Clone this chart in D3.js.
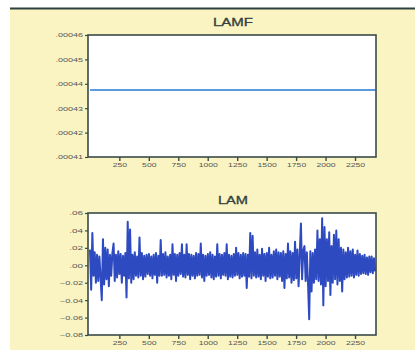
<!DOCTYPE html>
<html>
<head>
<meta charset="utf-8">
<script src="https://cdn.jsdelivr.net/npm/d3@7/dist/d3.min.js"></script>
<style>
  body { margin: 0; background: #fff; }
  text { font-family: "Liberation Sans", Arial, sans-serif; }
</style>
</head>
<body>
<svg id="chart" width="415" height="350"></svg>
<script>
// tick labels
const xTicks = [250, 500, 750, 1000, 1250, 1500, 1750, 2000, 2250];
const lamfTicks = [0.00041, 0.00042, 0.00043, 0.00044, 0.00045, 0.00046];
const lamTicks = [-0.08, -0.06, -0.04, -0.02, 0.00, 0.02, 0.04, 0.06];

// LAMF is flat over the sample
const lamfLevel = 0.0004375;
const obsFirst = 1, obsLast = 2425;

// LAM, read every 10th observation off the picture (obs 1, 11, 21, ...)
const lamStep = 10;
const lam = [
  .018, -.028, .037, -.012, .015, -.020, .012, -.018, .010, -.015,
  -.040, .030, -.022, .020, -.016, .018, -.024, .012, -.012, .014,
  .025, -.018, .012, -.014, .016, -.010, .013, -.020, .011, -.012,
  .014, -.037, .050, -.015, .041, -.020, .012, -.016, .015, -.012,
  .010, -.014, .032, -.012, .014, -.016, .011, -.013, .012, -.010,
  .013, -.012, .010, -.015, .012, -.011, .014, -.020, .011, -.012,
  .029, -.012, .013, -.011, .015, -.014, .010, -.012, .012, -.016,
  .024, -.011, .013, -.018, .012, -.012, .014, -.010, .024, -.013,
  .012, -.014, .024, -.011, .013, -.016, .012, -.012, .011, -.015,
  .014, -.012, .013, -.011, .025, -.014, .012, -.018, .011, -.012,
  .013, -.011, .015, -.014, .012, -.016, .010, -.013, .024, -.012,
  .013, -.015, .012, -.011, .014, -.012, .024, -.016, .012, -.013,
  .011, -.014, .013, -.012, .020, -.011, .014, -.015, .012, -.013,
  .014, -.012, .013, -.026, .012, -.013, .037, -.015, .034, -.012,
  .015, -.014, .018, -.013, .012, -.016, .019, -.012, .013, -.018,
  .014, -.013, .020, -.015, .012, -.014, .016, -.012, .018, -.016,
  .015, -.013, .014, -.018, .016, -.026, .013, -.015, .025, -.014,
  .016, -.020, .014, -.017, .027, -.015, .018, -.024, .013, .048,
  -.016, .017, .022, -.018, .015, -.020, -.062, .016, -.030, .014,
  -.020, .018, -.016, .040, -.018, .030, -.022, .054, -.046, .044,
  -.024, .030, -.018, .038, -.034, .022, -.020, .035, -.016, .040,
  -.022, .030, -.018, .020, -.030, .018, -.016, .015, -.014, .020,
  -.013, .016, -.012, .018, -.014, .012, -.011, .017, -.012, .013,
  -.010, .011, -.009, .012, -.010, .009, -.011, .010, -.008, .010,
  -.009, .008, -.007
];

const svg = d3.select("#chart");

// page background: white strip, rule, yellow card
svg.append("rect").attr("x", 10).attr("y", 9).attr("width", 405).attr("height", 341)
  .attr("fill", "#faf4c3");
svg.append("line").attr("x1", 10).attr("x2", 415).attr("y1", 8.5).attr("y2", 8.5)
  .attr("stroke", "#2f4040").attr("stroke-width", 2);

const frame = "#3a4a47";
const trimZero = s => s.replace(/^(-?)0\./, "$1.");

function panel(opts) {
  const x = d3.scaleLinear().domain([-16, 2428]).range([88, 376]);
  const y = d3.scaleLinear().domain(opts.yDomain).range([opts.bottom, opts.top]);
  const g = svg.append("g");

  g.append("rect")
    .attr("x", 88).attr("y", opts.top)
    .attr("width", 288).attr("height", opts.bottom - opts.top)
    .attr("fill", "#fff");

  g.append("text")
    .attr("x", 233).attr("y", opts.top - 9)
    .attr("text-anchor", "middle")
    .attr("font-size", 10)
    .attr("fill", "#34423f")
    .attr("stroke", "#34423f").attr("stroke-width", 0.3)
    .attr("textLength", opts.title.length * 10)
    .attr("lengthAdjust", "spacingAndGlyphs")
    .text(opts.title);

  const clipId = "clip" + opts.title;
  g.append("clipPath").attr("id", clipId)
    .append("rect").attr("x", 88).attr("y", opts.top)
    .attr("width", 288).attr("height", opts.bottom - opts.top);

  g.append("path")
    .datum(opts.series)
    .attr("clip-path", `url(#${clipId})`)
    .attr("fill", "none")
    .attr("stroke", opts.color)
    .attr("stroke-width", opts.width)
    .attr("stroke-linejoin", "round")
    .attr("d", d3.line().x(d => x(d.obs)).y(d => y(d.v)));

  // y axis
  const ya = g.append("g").attr("transform", "translate(88,0)")
    .call(d3.axisLeft(y).tickValues(opts.yTicks).tickSize(3).tickPadding(2)
      .tickFormat(d => trimZero(opts.fmt(d))));
  ya.select(".domain").remove();
  ya.selectAll("line").attr("stroke", frame).attr("stroke-width", 1.2);
  ya.selectAll("text")
    .attr("font-size", 6).attr("fill", "#555")
    .attr("font-family", "Liberation Sans, Arial, sans-serif")
    .each(function () {
      const t = d3.select(this);
      t.attr("textLength", t.text().length * 4.6).attr("lengthAdjust", "spacingAndGlyphs");
    });

  // x axis
  const xa = g.append("g").attr("transform", `translate(0,${opts.bottom})`)
    .call(d3.axisBottom(x).tickValues(xTicks).tickSize(4).tickPadding(2)
      .tickFormat(d3.format("d")));
  xa.select(".domain").remove();
  xa.selectAll("line").attr("stroke", frame).attr("stroke-width", 1.4);
  xa.selectAll("text")
    .attr("font-size", 6).attr("fill", "#555")
    .attr("font-family", "Liberation Sans, Arial, sans-serif")
    .each(function () {
      const t = d3.select(this);
      t.attr("textLength", t.text().length * 4.8).attr("lengthAdjust", "spacingAndGlyphs");
    });

  g.append("rect")
    .attr("x", 88).attr("y", opts.top)
    .attr("width", 288).attr("height", opts.bottom - opts.top)
    .attr("fill", "none").attr("stroke", frame).attr("stroke-width", 1.6);
}

panel({
  title: "LAMF",
  top: 35, bottom: 157,
  yDomain: [0.00041, 0.00046],
  yTicks: lamfTicks,
  fmt: d3.format(".5f"),
  series: [{ obs: obsFirst, v: lamfLevel }, { obs: obsLast, v: lamfLevel }],
  color: "#5a9be0", width: 2
});

panel({
  title: "LAM",
  top: 213, bottom: 335,
  yDomain: [-0.08, 0.06],
  yTicks: lamTicks,
  fmt: d3.format(".2f"),
  series: lam.map((v, i) => ({ obs: obsFirst + i * lamStep, v: v })),
  color: "#2e4ac0", width: 2
});
</script>
</body>
</html>
